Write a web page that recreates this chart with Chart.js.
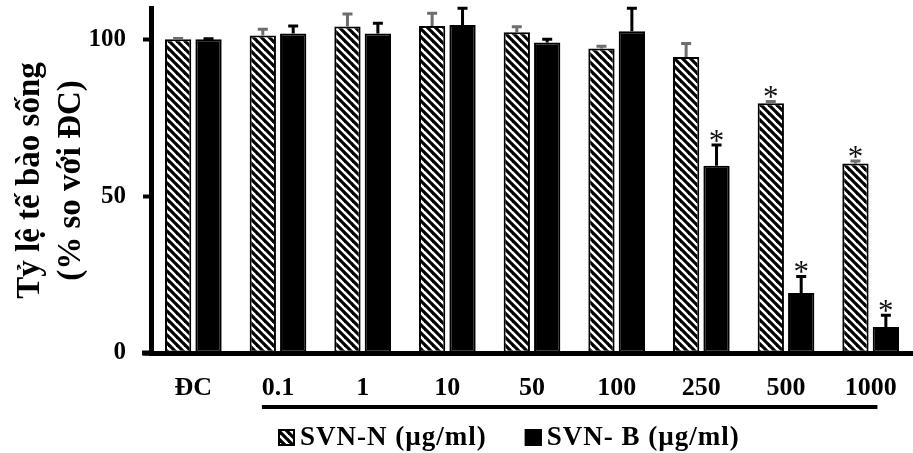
<!DOCTYPE html>
<html>
<head>
<meta charset="utf-8">
<script src="https://cdn.jsdelivr.net/npm/chart.js@4/dist/chart.umd.min.js"></script>
<style>
  html, body { margin: 0; padding: 0; background: #fff; }
  #wrap { width: 913px; height: 453px; }
</style>
</head>
<body>
<div id="wrap"><canvas id="c" width="913" height="453"></canvas></div>
<script>
// ---- data ----
const categories = ['ĐC', '0.1', '1', '10', '50', '100', '250', '500', '1000'];
const seriesNames = ['SVN-N (µg/ml)', 'SVN- B (µg/ml)'];
const nValues = [100, 101.2, 104.1, 104.3, 102.3, 97.1, 94.4, 79.6, 60.4];
const nErrors = [0.3, 2.0, 4.0, 4.0, 1.7, 0.7, 4.3, 0.6, 0.8];
const bValues = [100, 101.9, 101.9, 104.6, 99.0, 102.6, 59.7, 19.1, 8.3];
const bErrors = [0.2, 2.4, 3.2, 5.3, 1.0, 7.3, 6.6, 5.3, 3.7];
const nStars = [false, false, false, false, false, false, false, true, true];
const bStars = [false, false, false, false, false, false, true, true, true];
const yTicks = [0, 50, 100];
const yTitle = ['Tỷ lệ tế bào sống', '(% so với ĐC)'];

const FONT = '"Liberation Serif", "Times New Roman", serif';

// hatch pattern
function makeHatch() {
  const s = 8;
  const cv = document.createElement('canvas');
  cv.width = s; cv.height = s;
  const g = cv.getContext('2d');
  g.fillStyle = '#fff';
  g.fillRect(0, 0, s, s);
  g.strokeStyle = '#000';
  g.lineWidth = 3.2;
  g.lineCap = 'square';
  for (const o of [-s, 0, s]) {
    g.beginPath();
    g.moveTo(o, 0);
    g.lineTo(o + s, s);
    g.stroke();
  }
  return g.createPattern(cv, 'repeat');
}
const hatch = makeHatch();

const errorBarPlugin = {
  id: 'errorBars',
  afterDatasetsDraw(chart) {
    const ctx = chart.ctx;
    const yScale = chart.scales.y;
    chart.data.datasets.forEach((ds, d) => {
      const meta = chart.getDatasetMeta(d);
      meta.data.forEach((bar, i) => {
        const v = ds.data[i];
        const e = ds.errors[i];
        const yTop = yScale.getPixelForValue(v + e);
        ctx.save();
        ctx.strokeStyle = ds.errColor;
        ctx.lineWidth = 3;
        ctx.beginPath();
        ctx.moveTo(bar.x, bar.y);
        ctx.lineTo(bar.x, yTop);
        ctx.moveTo(bar.x - 5, yTop);
        ctx.lineTo(bar.x + 5, yTop);
        ctx.stroke();
        if (ds.stars[i]) {
          ctx.fillStyle = '#111';
          ctx.font = '31px ' + FONT;
          ctx.textAlign = 'center';
          ctx.textBaseline = 'alphabetic';
          ctx.fillText('*', bar.x, yTop + 6);
        }
        ctx.restore();
      });
    });
  },
  afterDraw(chart) {
    const ctx = chart.ctx;
    const x = chart.scales.x;
    const area = chart.chartArea;
    ctx.save();
    // x axis extension to the left of the y axis
    ctx.fillStyle = '#000';
    ctx.fillRect(area.left - 9, area.bottom - 2.5, 12, 5);
    // bracket line under the concentration labels
    const cw = x.getPixelForValue(1) - x.getPixelForValue(0);
    const x1 = x.getPixelForValue(1) - cw * 0.19;
    const x2 = x.getPixelForValue(8) + cw * 0.08;
    ctx.fillRect(x1, 405, x2 - x1, 4);
    // legend
    ctx.font = 'bold 27px ' + FONT;
    ctx.letterSpacing = '1px';
    ctx.textBaseline = 'middle';
    ctx.textAlign = 'left';
    const fills = [hatch, '#000'];
    let lx = 278;
    const ly = 437;
    seriesNames.forEach((name, k) => {
      ctx.fillStyle = fills[k];
      ctx.fillRect(lx, ly - 8, 17, 17);
      ctx.strokeStyle = '#000';
      ctx.lineWidth = 2;
      ctx.strokeRect(lx + 1, ly - 7, 15, 15);
      ctx.fillStyle = '#000';
      ctx.fillText(name, lx + 22, ly + 1);
      lx += 22 + ctx.measureText(name).width + 38;
    });
    ctx.restore();
  }
};

new Chart(document.getElementById('c'), {
  type: 'bar',
  data: {
    labels: categories,
    datasets: [
      {
        label: seriesNames[0],
        data: nValues,
        errors: nErrors,
        stars: nStars,
        errColor: '#6e6e6e',
        backgroundColor: hatch,
        borderColor: '#000',
        borderWidth: 2,
        borderSkipped: false,
        categoryPercentage: 0.718,
        barPercentage: 0.865
      },
      {
        label: seriesNames[1],
        data: bValues,
        errors: bErrors,
        stars: bStars,
        errColor: '#000',
        backgroundColor: '#000',
        borderColor: '#000',
        borderWidth: 2,
        borderSkipped: false,
        categoryPercentage: 0.718,
        barPercentage: 0.865
      }
    ]
  },
  options: {
    responsive: false,
    animation: false,
    layout: { padding: { top: 8, right: 0, bottom: 0, left: 0 } },
    plugins: {
      legend: { display: false },
      tooltip: { enabled: false }
    },
    scales: {
      x: {
        grid: { display: false, drawTicks: false },
        border: { display: true, color: '#000', width: 5 },
        ticks: {
          color: '#000',
          font: { family: FONT, size: 26, weight: 'bold' },
          padding: 20,
          maxRotation: 0
        },
        afterFit(scale) { scale.height = 100; scale.paddingLeft = 0; scale.paddingRight = 0; }
      },
      y: {
        min: 0,
        max: 110,
        afterBuildTicks(scale) { scale.ticks = yTicks.map(v => ({ value: v })); },
        grid: {
          display: true,
          drawOnChartArea: false,
          drawTicks: true,
          tickLength: 8,
          tickWidth: 4,
          tickColor: '#000'
        },
        border: { display: true, color: '#000', width: 5 },
        ticks: {
          color: '#000',
          font: { family: FONT, size: 25, weight: 'bold' },
          padding: 17
        },
        title: {
          display: true,
          text: yTitle,
          color: '#000',
          font: { family: FONT, size: 33, weight: 'bold', lineHeight: 1.25 },
          padding: { top: 10, bottom: 0 }
        },
        afterFit(scale) { scale.width = 151; scale.paddingTop = 0; scale.paddingBottom = 0; }
      }
    }
  },
  plugins: [errorBarPlugin]
});
</script>
</body>
</html>
